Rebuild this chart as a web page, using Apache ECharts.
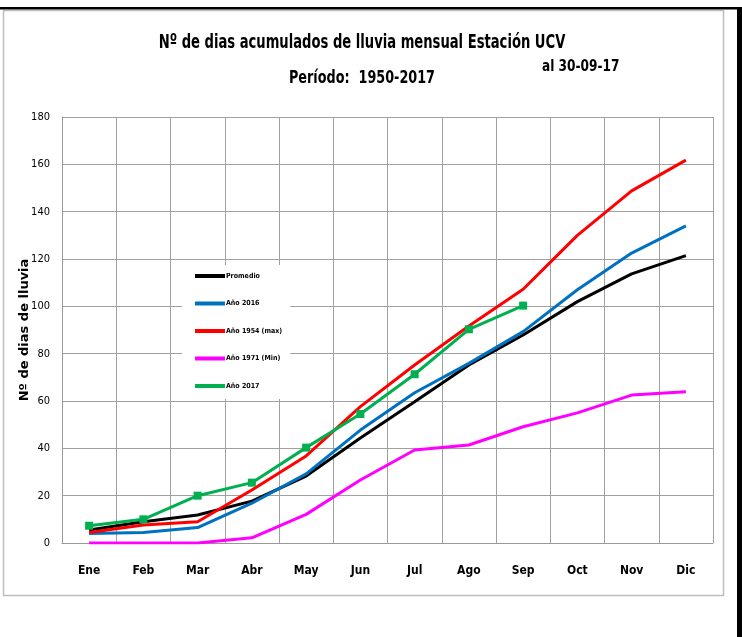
<!DOCTYPE html>
<html>
<head>
<meta charset="utf-8">
<script src="https://cdn.jsdelivr.net/npm/echarts@6/dist/echarts.min.js"></script>
<style>
  html, body { margin: 0; padding: 0; background: #fff; }
  #chart { width: 742px; height: 637px; }
</style>
</head>
<body>
<div id="chart"></div>
<script>
  // datos
  var meses = ['Ene', 'Feb', 'Mar', 'Abr', 'May', 'Jun', 'Jul', 'Ago', 'Sep', 'Oct', 'Nov', 'Dic'];
  var promedio = [5.5, 9, 11.8, 17.7, 28.3, 44.4, 59.7, 75.2, 87.9, 102, 113.7, 121.4];
  var ano2016 = [4, 4.4, 6.5, 16.8, 29.2, 47.7, 63.5, 75.9, 89.3, 107, 122.5, 134];
  var ano1954 = [4.4, 7.6, 9, 22.4, 36.8, 57.6, 75.2, 91.7, 107.2, 130, 148.8, 161.8];
  var ano1971 = [0, 0, 0, 2.2, 12.1, 26.6, 39.3, 41.4, 49.1, 55, 62.5, 63.9];
  var ano2017 = [7.3, 10, 20, 25.5, 40.3, 54.5, 71.3, 90.3, 100.3];

  var narrow = '"DejaVu Sans Condensed", "Liberation Sans Narrow", sans-serif';

  function serie(nombre, color, datos) {
    return {
      name: nombre,
      type: 'line',
      data: datos,
      color: color,
      symbol: 'none',
      lineStyle: { width: 3, color: color },
      z: 3
    };
  }

  var myChart = echarts.init(document.getElementById('chart'));
  var s2017 = serie('Año 2017', '#00B050', ano2017);
  s2017.symbol = 'rect';
  s2017.symbolSize = 8;
  s2017.z = 4;

  var option = {
    backgroundColor: '#fff',
    animation: false,
    grid: { left: 62, right: 29, top: 117, bottom: 94 },
    graphic: [
      // marco del grafico
      { type: 'rect', shape: { x: 3.5, y: 10.5, width: 720, height: 585 },
        style: { fill: 'none', stroke: '#bdbdbd', lineWidth: 1.5 }, z: -1 },
      { type: 'rect', shape: { x: 0, y: 7, width: 742, height: 2.5 }, style: { fill: '#000' } },
      { type: 'rect', shape: { x: 737, y: 7, width: 5, height: 630 }, style: { fill: '#000' } },
      // titulos
      { type: 'text', x: 362, y: 43, scaleX: 0.73, style: {
          text: 'Nº de dias acumulados de lluvia mensual Estación UCV',
          font: 'bold 20px ' + narrow, fill: '#000', textAlign: 'center', textVerticalAlign: 'middle' } },
      { type: 'text', x: 289, y: 78, scaleX: 0.79, style: {
          text: 'Período:  1950-2017', font: 'bold 18px ' + narrow, fill: '#000', textVerticalAlign: 'middle' } },
      { type: 'text', x: 542, y: 67, scaleX: 0.9, style: {
          text: 'al 30-09-17', font: 'bold 15px ' + narrow, fill: '#000', textVerticalAlign: 'middle' } }
    ],
    legend: {
      orient: 'vertical',
      left: 182,
      top: 265,
      padding: [6, 8, 8, 11],
      backgroundColor: '#fff',
      itemWidth: 30,
      itemHeight: 4,
      itemGap: 17.5,
      textStyle: { fontFamily: narrow, fontWeight: 'bold', fontSize: 7, lineHeight: 10, color: '#000', padding: [0, 0, 0, -4] },
      data: [
        { name: 'Promedio', icon: 'rect' },
        { name: 'Año 2016', icon: 'rect' },
        { name: 'Año 1954 (max)', icon: 'rect' },
        { name: 'Año 1971 (Min)', icon: 'rect' },
        { name: 'Año 2017', lineStyle: { width: 4 } }
      ]
    },
    xAxis: {
      type: 'category',
      data: meses,
      boundaryGap: true,
      axisTick: { show: false },
      axisLine: { lineStyle: { color: '#999', width: 1 } },
      axisLabel: { margin: 22, fontFamily: narrow, fontWeight: 'bold', fontSize: 12, color: '#000' },
      splitLine: { show: true, interval: 0, lineStyle: { color: '#a0a0a0', width: 1 } }
    },
    yAxis: {
      type: 'value',
      min: 0,
      max: 180,
      interval: 20,
      name: 'Nº de dias de lluvia',
      nameLocation: 'middle',
      nameGap: 31,
      nameMoveOverlap: false,
      nameTextStyle: { fontFamily: '"DejaVu Sans", sans-serif', fontWeight: 'bold', fontSize: 13, color: '#000' },
      axisLine: { show: true, lineStyle: { color: '#999' } },
      axisTick: { show: false },
      axisLabel: { margin: 12, fontFamily: narrow, fontSize: 11, color: '#000' },
      splitLine: { lineStyle: { color: '#a0a0a0', width: 1 } }
    },
    series: [
      serie('Promedio', '#000000', promedio),
      serie('Año 2016', '#0070C0', ano2016),
      serie('Año 1954 (max)', '#FF0000', ano1954),
      serie('Año 1971 (Min)', '#FF00FF', ano1971),
      s2017
    ]
  };
  myChart.setOption(option);
</script>
</body>
</html>
